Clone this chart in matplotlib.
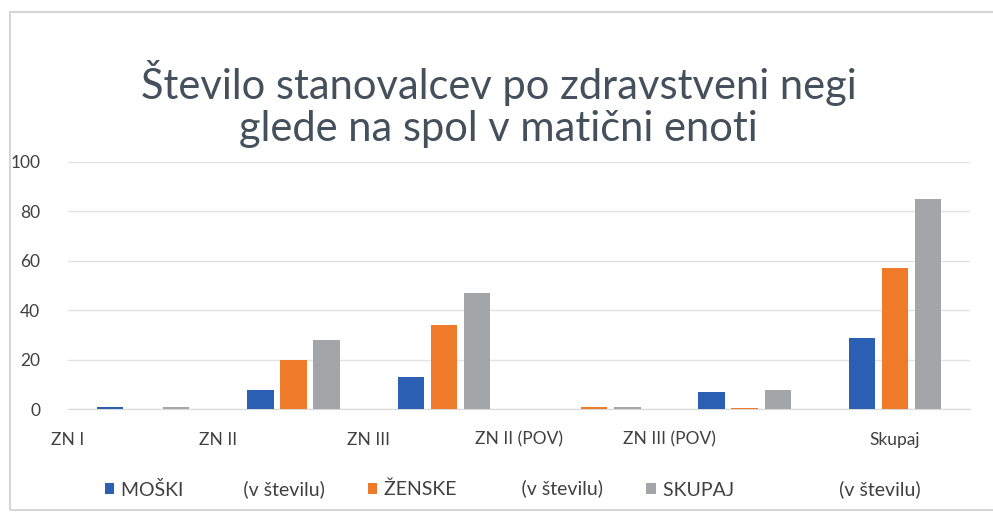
import numpy as np
import matplotlib
matplotlib.use("Agg")
import matplotlib.pyplot as plt
from matplotlib.patches import Rectangle, Patch

# ---------------------------------------------------------
# data

categories = ["ZN I", "ZN II", "ZN III", "ZN II (POV)", "ZN III (POV)", "Skupaj"]

moski = [1, 8, 13, 0, 7, 29]
zenske = [0, 20, 34, 1, 0.5, 57]
skupaj = [1, 28, 47, 1, 8, 85]

series_names = ["MOŠKI", "ŽENSKE", "SKUPAJ"]
series_unit = "(v številu)"

y_ticks = [0, 20, 40, 60, 80, 100]

title = "Število stanovalcev po zdravstveni negi\nglede na spol v matični enoti"

# ---------------------------------------------------------

plt.rcParams["font.family"] = ["Lato", "DejaVu Sans"]

colors = ["#2a5fb4", "#ee7a2a", "#a3a5a8"]
text_color = "#404040"

fig = plt.figure(figsize=(9.93, 5.13), dpi=100)
ax = fig.add_axes([0.0685, 0.202, 0.9085, 0.483])

x = np.arange(len(categories))
step = 0.22
width = 0.175

for i, values in enumerate([moski, zenske, skupaj]):
    ax.bar(x + (i - 1) * step, values, width, color=colors[i], zorder=3)

ax.set_xlim(-0.5, len(categories) - 0.5)
ax.set_ylim(0, 100)
ax.set_yticks(y_ticks)
ax.set_yticklabels([str(t) for t in y_ticks], fontsize=12.5, color=text_color)
ax.tick_params(axis="y", length=0, pad=20)

# category labels sit left of their groups in the original, except the last one
label_pos = [xi - 0.5 for xi in x[:-1]] + [x[-1]]
ax.set_xticks(label_pos)
ax.set_xticklabels(categories, fontsize=12.5, color=text_color)
ax.tick_params(axis="x", length=0, pad=16)

ax.grid(axis="y", color="#e3e3e3", linewidth=1, zorder=0)
for side in ["top", "right", "left"]:
    ax.spines[side].set_visible(False)
ax.spines["bottom"].set_color("#d9d9d9")

fig.text(0.502, 0.797, title, ha="center", va="center", fontsize=30,
         color="#44505c", linespacing=1.12)

handles = [Patch(facecolor=c, edgecolor="none") for c in colors]
labels = [series_names[0] + " " * 12 + series_unit,
          series_names[1] + " " * 13 + series_unit,
          series_names[2] + " " * 21 + series_unit]
fig.legend(handles, labels, loc="center", bbox_to_anchor=(0.516, 0.049),
           ncol=3, frameon=False, fontsize=14, handlelength=0.5,
           handleheight=0.5, handletextpad=0.35, columnspacing=2.2,
           labelcolor=text_color)

# chart frame
fig.patches.append(Rectangle((10 / 993, 3 / 513), 1.0, 498 / 513,
                             transform=fig.transFigure, fill=False,
                             edgecolor="#d6d6d6", linewidth=1.5))

fig.savefig("out.png", dpi=100)
